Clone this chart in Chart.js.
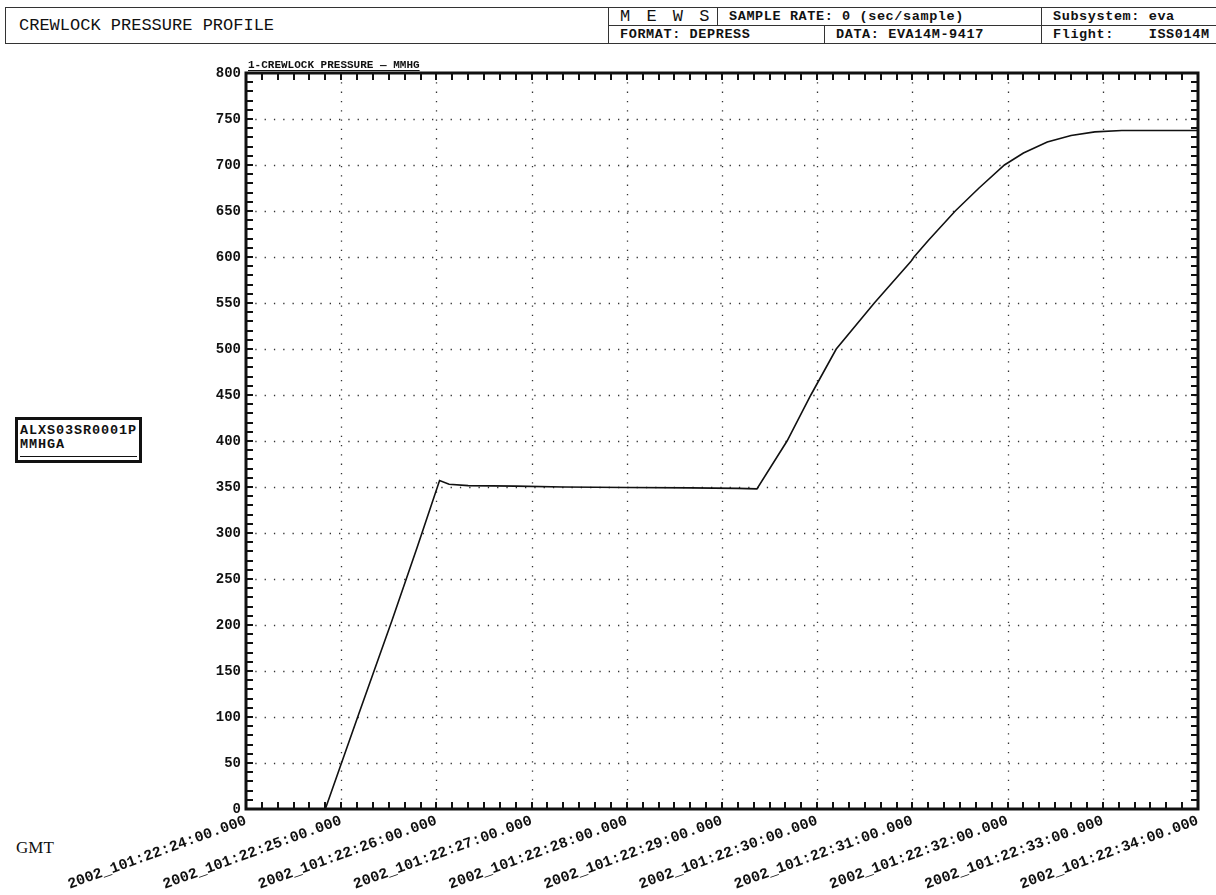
<!DOCTYPE html>
<html>
<head>
<meta charset="utf-8">
<script src="https://cdn.jsdelivr.net/npm/chart.js@4"></script>
<style>
  body { margin: 0; background: #fff; width: 1216px; height: 895px; position: relative; overflow: hidden;
         font-family: 'Liberation Mono', 'DejaVu Sans Mono', monospace; color: #111; }
  .box { position: absolute; border: 1px solid #333; box-sizing: border-box; }
  .cell { position: absolute; box-sizing: border-box; border-left: 1px solid #333; font-weight: bold;
          font-size: 13.5px; letter-spacing: 0.6px; line-height: 18px; padding-left: 11px; white-space: pre; }
  #wrap { position: absolute; left: 0; top: 55px; width: 1216px; height: 840px; }
  #tag { position: absolute; left: 15px; top: 417px; width: 127px; height: 46px; border: 3px solid #111;
         box-sizing: border-box; font-weight: bold; font-size: 13.5px; letter-spacing: 0.9px; line-height: 14px;
         padding: 4px 0 0 2px; }
  #tag hr { margin: 4px 2px 0 0; border: 0; border-top: 1px solid #111; }
  #gmt { position: absolute; left: 16px; top: 838px; font-family: 'Liberation Serif', serif; font-size: 17px; }
</style>
</head>
<body>
<div class="box" style="left:5px;top:7px;width:604px;height:37px;">
  <div style="position:absolute;left:13px;top:8px;font-size:17px;">CREWLOCK PRESSURE PROFILE</div>
</div>
<div class="box" style="left:608px;top:7px;width:612px;height:37px;border-left:1px solid #333;">
  <div class="cell" style="left:0;top:0;width:108px;height:18px;border-left:0;font-weight:normal;font-size:17px;letter-spacing:3px;">M E W S</div>
  <div class="cell" style="left:108px;top:0;width:324px;height:18px;">SAMPLE RATE: 0 (sec/sample)</div>
  <div class="cell" style="left:432px;top:0;width:180px;height:18px;">Subsystem: eva</div>
  <div style="position:absolute;left:0;top:17px;width:612px;border-top:1px solid #333;"></div>
  <div class="cell" style="left:0;top:18px;width:215px;height:18px;border-left:0;">FORMAT: DEPRESS</div>
  <div class="cell" style="left:215px;top:18px;width:217px;height:18px;">DATA: EVA14M-9417</div>
  <div class="cell" style="left:432px;top:18px;width:180px;height:18px;">Flight:    ISS014M</div>
</div>
<div id="tag">ALXS03SR0001P<br>MMHGA<hr></div>
<div id="gmt">GMT</div>
<div id="wrap"><canvas id="grafico"></canvas></div>
<script>
// seconds after 2002_101:22:24:00
const tiempo = [0, 50, 71, 92, 108, 122, 128, 140, 170, 200, 240, 280, 310, 322,
  341, 356, 372, 396, 419, 421, 430, 447, 462, 478, 490, 505, 520, 535, 552, 575, 600];
const presion = [0, 0, 103, 205, 285, 357, 353, 351.5, 351, 350, 349.5, 349, 348.5, 348,
  400, 450, 500, 550, 595, 600, 618, 650, 675, 700, 713, 725, 732, 736, 737.5, 737.5, 737.5];
const etiquetasX = ['2002_101:22:24:00.000', '2002_101:22:25:00.000', '2002_101:22:26:00.000',
  '2002_101:22:27:00.000', '2002_101:22:28:00.000', '2002_101:22:29:00.000', '2002_101:22:30:00.000',
  '2002_101:22:31:00.000', '2002_101:22:32:00.000', '2002_101:22:33:00.000', '2002_101:22:34:00.000'];
const etiquetasY = [0, 50, 100, 150, 200, 250, 300, 350, 400, 450, 500, 550, 600, 650, 700, 750, 800];
const titulo = '1-CREWLOCK PRESSURE \u2014 MMHG';

const mono = "'Liberation Mono', 'DejaVu Sans Mono', monospace";

const marco = {
  id: 'marco',
  beforeDatasetsDraw(chart) {
    const { ctx, chartArea: a, scales: { x, y } } = chart;
    ctx.save();
    ctx.strokeStyle = '#333';
    ctx.lineWidth = 1.3;
    ctx.setLineDash([1.3, 8]);
    for (let i = 1; i < etiquetasX.length - 1; i++) {
      const px = Math.round(x.getPixelForValue(i * 60)) + 0.5;
      ctx.beginPath(); ctx.moveTo(px, a.bottom); ctx.lineTo(px, a.top); ctx.stroke();
    }
    for (let i = 1; i < etiquetasY.length - 1; i++) {
      const py = Math.round(y.getPixelForValue(etiquetasY[i])) + 0.5;
      ctx.beginPath(); ctx.moveTo(a.left, py); ctx.lineTo(a.right, py); ctx.stroke();
    }
    ctx.restore();
  },
  afterDatasetsDraw(chart) {
    const { ctx, chartArea: a, scales: { x, y } } = chart;
    ctx.save();
    ctx.setLineDash([]);
    ctx.strokeStyle = '#111';
    ctx.lineWidth = 2;
    const largo = 7;
    // minor ticks pointing inward
    for (let s = 10; s < 600; s += 10) {
      const px = Math.round(x.getPixelForValue(s));
      ctx.beginPath();
      ctx.moveTo(px, a.bottom); ctx.lineTo(px, a.bottom - largo);
      ctx.moveTo(px, a.top); ctx.lineTo(px, a.top + largo);
      ctx.stroke();
    }
    for (let v = 10; v < 800; v += 10) {
      const py = Math.round(y.getPixelForValue(v));
      ctx.beginPath();
      ctx.moveTo(a.left, py); ctx.lineTo(a.left + largo, py);
      ctx.moveTo(a.right, py); ctx.lineTo(a.right - largo, py);
      ctx.stroke();
    }
    ctx.lineWidth = 3;
    ctx.strokeRect(a.left, a.top, a.right - a.left, a.bottom - a.top);
    // series title above plot
    ctx.font = 'bold 11px ' + mono;
    ctx.fillStyle = '#111';
    ctx.textBaseline = 'alphabetic';
    ctx.fillText(titulo, a.left + 2, a.top - 5);
    const w = ctx.measureText(titulo).width;
    ctx.lineWidth = 1;
    ctx.beginPath(); ctx.moveTo(a.left + 2, a.top - 2.5); ctx.lineTo(a.left + 2 + w, a.top - 2.5); ctx.stroke();
    ctx.restore();
  }
};

const ctx = document.getElementById('grafico').getContext('2d');
new Chart(ctx, {
  type: 'line',
  data: {
    datasets: [{
      data: tiempo.map((t, i) => ({ x: t, y: presion[i] })),
      borderColor: '#111',
      borderWidth: 1.6,
      pointRadius: 0,
      tension: 0,
      fill: false
    }]
  },
  options: {
    responsive: true,
    maintainAspectRatio: false,
    animation: false,
    layout: { padding: { top: 18, right: 18, left: 0, bottom: 0 } },
    plugins: { legend: { display: false }, tooltip: { enabled: false } },
    scales: {
      x: {
        type: 'linear',
        min: 0,
        max: 600,
        afterFit: (s) => { s.height = 86; },
        grid: { display: false, drawTicks: false, tickLength: 0 },
        border: { display: false },
        ticks: {
          stepSize: 60,
          autoSkip: false,
          minRotation: 20,
          maxRotation: 20,
          padding: 3,
          color: '#111',
          font: { family: mono, size: 15, weight: 'bold' },
          callback: (v) => etiquetasX[Math.round(v / 60)]
        }
      },
      y: {
        min: 0,
        max: 800,
        afterFit: (s) => { s.width = 246; },
        grid: { display: false, drawTicks: false, tickLength: 0 },
        border: { display: false },
        ticks: {
          stepSize: 50,
          padding: 5,
          color: '#111',
          font: { family: mono, size: 14, weight: 'bold' }
        }
      }
    }
  },
  plugins: [marco]
});
</script>
</body>
</html>
